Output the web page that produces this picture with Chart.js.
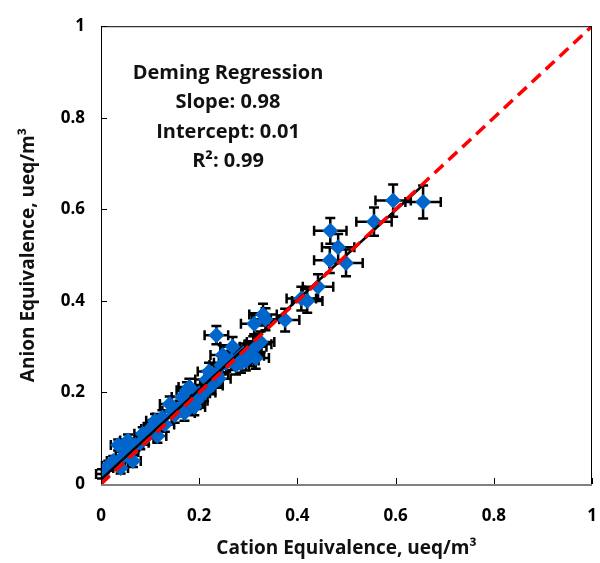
<!DOCTYPE html>
<html>
<head>
<meta charset="utf-8">
<script src="https://cdn.jsdelivr.net/npm/chart.js@4.4.1/dist/chart.umd.min.js"></script>
<style>
  html, body { margin: 0; padding: 0; background: #fff; }
  #wrap { width: 600px; height: 563px; }
</style>
</head>
<body>
<div id="wrap"><canvas id="chart" width="600" height="563"></canvas></div>
<script>
const cationX = [0.002, 0.015, 0.025, 0.035, 0.040, 0.045, 0.050, 0.055, 0.060, 0.065,
  0.070, 0.080, 0.085, 0.090, 0.100, 0.105, 0.110, 0.115, 0.125, 0.130,
  0.140, 0.145, 0.150, 0.160, 0.165, 0.170, 0.175, 0.180, 0.185, 0.190,
  0.195, 0.200, 0.210, 0.215, 0.220, 0.225, 0.235, 0.235, 0.240, 0.245,
  0.248, 0.255, 0.265, 0.268, 0.275, 0.280, 0.285, 0.290, 0.295, 0.300,
  0.305, 0.310, 0.312, 0.315, 0.320, 0.325, 0.330, 0.335, 0.375, 0.408,
  0.420, 0.442, 0.466, 0.467, 0.483, 0.499, 0.556, 0.595, 0.656];
const anionY = [0.022, 0.040, 0.050, 0.085, 0.035, 0.060, 0.078, 0.095, 0.070, 0.050,
  0.085, 0.090, 0.110, 0.100, 0.120, 0.125, 0.138, 0.105, 0.145, 0.130,
  0.175, 0.160, 0.150, 0.165, 0.190, 0.155, 0.205, 0.212, 0.175, 0.168,
  0.182, 0.198, 0.200, 0.228, 0.246, 0.215, 0.325, 0.240, 0.230, 0.260,
  0.282, 0.265, 0.270, 0.300, 0.260, 0.275, 0.265, 0.285, 0.270, 0.290,
  0.280, 0.300, 0.350, 0.275, 0.305, 0.310, 0.370, 0.360, 0.358, 0.405,
  0.400, 0.431, 0.489, 0.553, 0.517, 0.483, 0.573, 0.619, 0.616];
const cationErr = [0.012, 0.013, 0.013, 0.015, 0.015, 0.015, 0.015, 0.016, 0.016, 0.016,
  0.016, 0.017, 0.017, 0.017, 0.018, 0.018, 0.018, 0.018, 0.019, 0.019,
  0.020, 0.020, 0.020, 0.021, 0.021, 0.021, 0.021, 0.022, 0.022, 0.022,
  0.022, 0.022, 0.023, 0.023, 0.023, 0.023, 0.024, 0.024, 0.024, 0.024,
  0.025, 0.025, 0.025, 0.025, 0.026, 0.026, 0.026, 0.026, 0.026, 0.027,
  0.027, 0.027, 0.027, 0.027, 0.027, 0.028, 0.028, 0.028, 0.029, 0.030,
  0.031, 0.031, 0.032, 0.033, 0.033, 0.034, 0.036, 0.036, 0.036];
const anionErr = [0.010, 0.011, 0.011, 0.012, 0.012, 0.012, 0.012, 0.013, 0.013, 0.013,
  0.013, 0.014, 0.014, 0.014, 0.015, 0.015, 0.015, 0.015, 0.016, 0.016,
  0.016, 0.016, 0.016, 0.017, 0.017, 0.017, 0.017, 0.018, 0.018, 0.018,
  0.018, 0.018, 0.019, 0.019, 0.019, 0.019, 0.020, 0.020, 0.020, 0.020,
  0.021, 0.021, 0.021, 0.021, 0.021, 0.022, 0.022, 0.022, 0.022, 0.022,
  0.022, 0.023, 0.023, 0.023, 0.023, 0.023, 0.024, 0.024, 0.025, 0.026,
  0.026, 0.027, 0.028, 0.028, 0.029, 0.029, 0.031, 0.035, 0.036];

const oneToOneX = [0, 1];
const oneToOneY = [0, 1];
const demingX = [0, 0.655];
const demingY = [0.01, 0.652];

const annotationLines = ["Deming Regression", "Slope: 0.98", "Intercept: 0.01", "R\u00b2: 0.99"];

const FONT = "'Open Sans', 'DejaVu Sans', sans-serif";

function toPoints(xs, ys) {
  return xs.map((x, i) => ({ x: x, y: ys[i] }));
}

// error bars behind the markers
const errorBars = {
  id: "errorBars",
  beforeDatasetsDraw(chart) {
    const ctx = chart.ctx;
    const xs = chart.scales.x;
    const ys = chart.scales.y;
    const cap = 5;
    ctx.save();
    ctx.strokeStyle = "#000";
    ctx.lineWidth = 2.5;
    cationX.forEach((x, i) => {
      const px = xs.getPixelForValue(x);
      const py = ys.getPixelForValue(anionY[i]);
      const x0 = xs.getPixelForValue(x - cationErr[i]);
      const x1 = xs.getPixelForValue(x + cationErr[i]);
      const y0 = ys.getPixelForValue(anionY[i] - anionErr[i]);
      const y1 = ys.getPixelForValue(anionY[i] + anionErr[i]);
      ctx.beginPath();
      ctx.moveTo(x0, py); ctx.lineTo(x1, py);
      ctx.moveTo(x0, py - cap); ctx.lineTo(x0, py + cap);
      ctx.moveTo(x1, py - cap); ctx.lineTo(x1, py + cap);
      ctx.moveTo(px, y0); ctx.lineTo(px, y1);
      ctx.moveTo(px - cap, y0); ctx.lineTo(px + cap, y0);
      ctx.moveTo(px - cap, y1); ctx.lineTo(px + cap, y1);
      ctx.stroke();
    });
    ctx.restore();
  }
};

// box, inward ticks and the regression note
const frame = {
  id: "frame",
  afterDraw(chart) {
    const ctx = chart.ctx;
    const a = chart.chartArea;
    const xs = chart.scales.x;
    const ys = chart.scales.y;
    ctx.save();
    ctx.strokeStyle = "#000";
    ctx.lineWidth = 1;
    ctx.strokeRect(a.left + 0.5, a.top + 0.5, a.right - a.left - 1, a.bottom - a.top);
    ctx.beginPath();
    xs.ticks.forEach(t => {
      const px = Math.round(xs.getPixelForValue(t.value)) + 0.5;
      ctx.moveTo(px, a.bottom); ctx.lineTo(px, a.bottom - 6);
    });
    ys.ticks.forEach(t => {
      const py = Math.round(ys.getPixelForValue(t.value)) + 0.5;
      ctx.moveTo(a.left, py); ctx.lineTo(a.left + 6, py);
    });
    ctx.stroke();
    ctx.strokeStyle = "#808080";
    ctx.lineWidth = 2;
    ctx.beginPath();
    ctx.moveTo(a.left, a.bottom + 1); ctx.lineTo(a.right, a.bottom + 1);
    ctx.stroke();

    ctx.fillStyle = "#111";
    ctx.font = "bold 20px " + FONT;
    ctx.textAlign = "center";
    ctx.textBaseline = "middle";
    annotationLines.forEach((line, i) => {
      ctx.fillText(line, 228, 73 + i * 29.5);
    });
    ctx.restore();
  }
};

const tickLabel = v => (v === 0 || v === 1) ? String(v) : v.toFixed(1);

const ctx = document.getElementById("chart").getContext("2d");
new Chart(ctx, {
  type: "scatter",
  data: {
    datasets: [
      {
        label: "1:1",
        type: "line",
        data: toPoints(oneToOneX, oneToOneY),
        borderColor: "#ff0000",
        borderWidth: 3.5,
        borderDash: [12, 7],
        pointRadius: 0,
        fill: false
      },
      {
        label: "Deming",
        type: "line",
        data: toPoints(demingX, demingY),
        borderColor: "#000",
        borderWidth: 2.5,
        pointRadius: 0,
        fill: false
      },
      {
        label: "Samples",
        data: toPoints(cationX, anionY),
        pointStyle: "rectRot",
        pointRadius: 8,
        backgroundColor: "#0066cc",
        borderColor: "#0066cc",
        borderWidth: 0
      }
    ]
  },
  options: {
    responsive: false,
    animation: false,
    layout: { padding: { left: 0, right: 6, top: 20, bottom: 0 } },
    plugins: { legend: { display: false }, tooltip: { enabled: false } },
    scales: {
      x: {
        type: "linear",
        min: 0,
        max: 1,
        ticks: { stepSize: 0.2, padding: 22, color: "#000", callback: tickLabel, font: { family: FONT, size: 17, weight: "bold" }, maxRotation: 0 },
        grid: { display: false, drawTicks: false },
        border: { display: false },
        title: { display: true, text: "Cation Equivalence, ueq/m\u00b3", color: "#111", padding: { top: 0, bottom: 3 }, font: { family: FONT, size: 19, weight: "bold" } },
        afterFit(scale) { scale.height = 79; scale.paddingRight = 0; }
      },
      y: {
        type: "linear",
        min: 0,
        max: 1,
        ticks: { stepSize: 0.2, padding: 16, color: "#000", callback: tickLabel, font: { family: FONT, size: 17, weight: "bold" } },
        grid: { display: false, drawTicks: false },
        border: { display: false },
        title: { display: true, text: "Anion Equivalence, ueq/m\u00b3", color: "#111", padding: { top: 17, bottom: 0 }, font: { family: FONT, size: 19, weight: "bold" } },
        afterFit(scale) { scale.width = 101; }
      }
    }
  },
  plugins: [errorBars, frame]
});
</script>
</body>
</html>
